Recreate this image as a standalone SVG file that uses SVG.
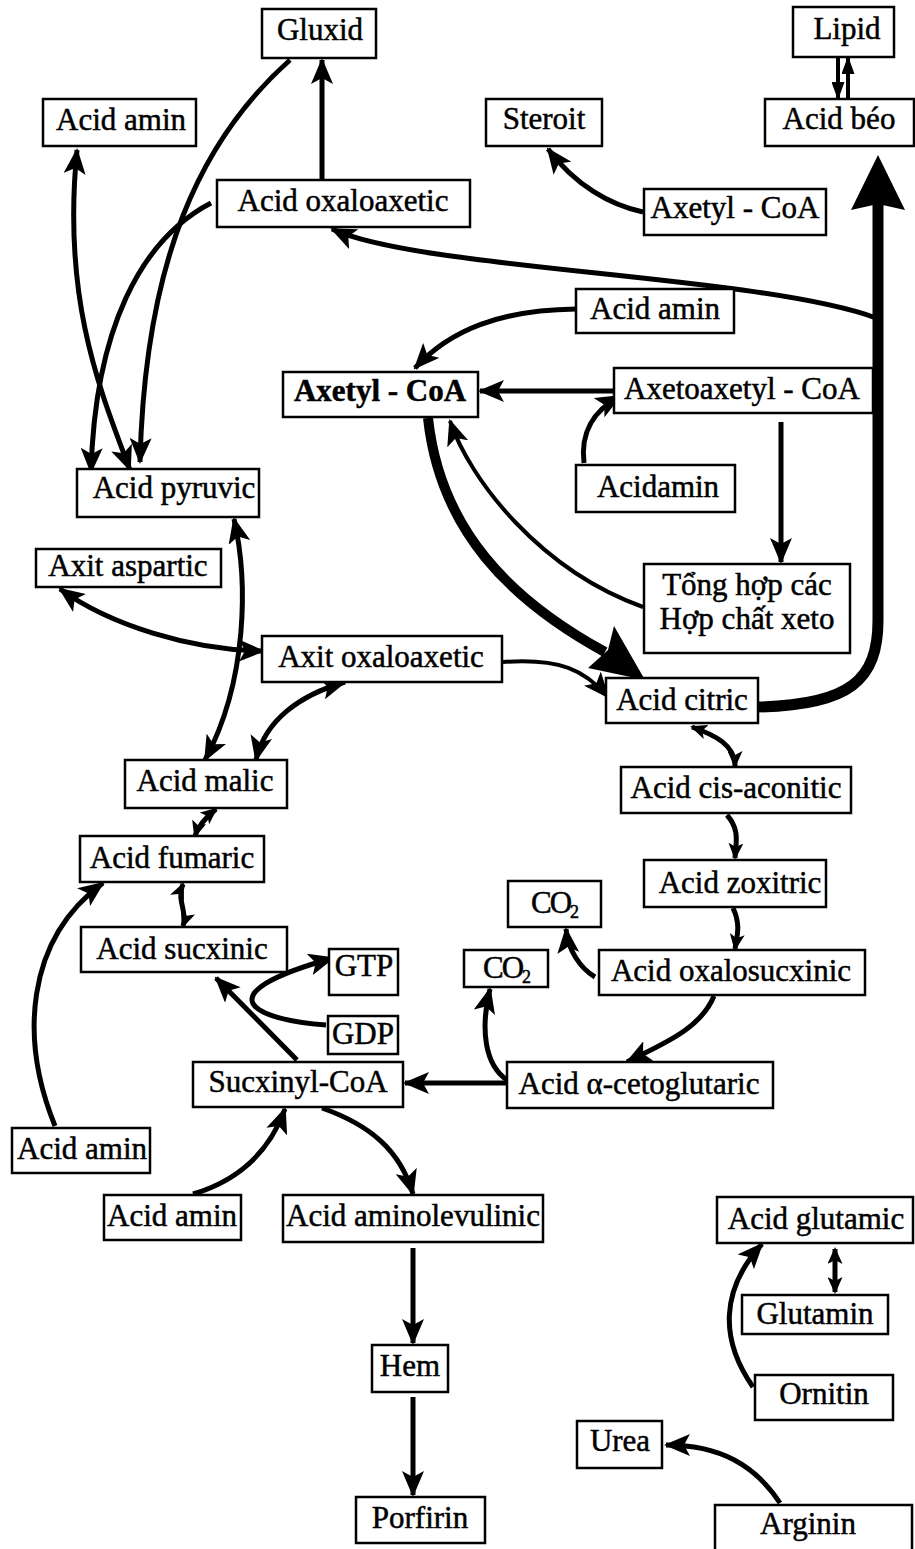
<svg xmlns="http://www.w3.org/2000/svg" width="915" height="1549" viewBox="0 0 915 1549">
<style>
.box{fill:#fff;stroke:#000;stroke-width:2.5}
.t{font-family:"Liberation Serif","Times New Roman",serif;font-size:31px;fill:#000;stroke:#000;stroke-width:0.5;text-anchor:middle}
.b{font-weight:bold}
.c{fill:none;stroke:#000;stroke-width:5}
.th{fill:none;stroke:#000;stroke-width:4}
.e{marker-end:url(#a)}
.d{marker-start:url(#a);marker-end:url(#a)}
.se{marker-end:url(#s)}
.sd{marker-start:url(#s);marker-end:url(#s)}
</style>
<defs>
<marker id="a" viewBox="0 0 26 22" markerWidth="26" markerHeight="22" refX="24" refY="11" markerUnits="userSpaceOnUse" orient="auto-start-reverse"><path d="M0,0 L26,11 L0,22 L6,11 z" fill="#000"/></marker>
<marker id="s" viewBox="0 0 17 15" markerWidth="17" markerHeight="15" refX="15" refY="7.5" markerUnits="userSpaceOnUse" orient="auto-start-reverse"><path d="M0,0 L17,7.5 L0,15 L4,7.5 z" fill="#000"/></marker>
<marker id="n" viewBox="0 0 18 13" markerWidth="18" markerHeight="13" refX="17" refY="6.5" markerUnits="userSpaceOnUse" orient="auto-start-reverse"><path d="M0,0 L18,6.5 L0,13 z" fill="#000"/></marker>
</defs>
<rect width="915" height="1549" fill="#fff"/>
<g id="connectors">
<path class="c e" d="M322 180 L322 60"/>
<path class="c e" d="M290 60 C200 140 145 260 140 462"/>
<path class="c e" d="M211 203 C140 240 95 330 91 472"/>
<path class="c d" d="M77 150 C62 300 100 390 130 470"/>
<path class="c e" d="M643 212 C610 205 575 185 548 149"/>
<path class="th" d="M838 57 L838 99" style="marker-end:url(#n)"/>
<path class="th" d="M848 99 L848 57" style="marker-end:url(#n)"/>
<path fill="none" stroke="#000" stroke-width="11" d="M758 707 C850 705 878 680 878 620 L878 200"/>
<polygon points="878,155 905,210 878,204 851,210" fill="#000"/>
<path class="c e" d="M876 318 C760 275 420 270 332 229"/>
<path class="c e" d="M576 309 C500 310 450 330 415 368"/>
<path class="c e" d="M614 391 L480 391"/>
<path class="c e" d="M584 463 C580 430 595 410 620 396"/>
<path class="c e" d="M781 422 L781 562"/>
<path class="th e" d="M643 607 C540 570 470 480 450 421"/>
<path fill="none" stroke="#000" stroke-width="10" d="M428 418 C440 530 510 600 605 652"/>
<polygon points="645,680 614,626 608,650 588,668" fill="#000"/>
<path class="th e" d="M503 662 C560 658 585 670 608 697"/>
<path class="c d" d="M60 589 C110 625 190 650 263 651"/>
<path class="c d" d="M234 519 C248 580 248 680 205 760"/>
<path class="c d" d="M345 682 C300 695 265 720 256 760"/>
<path class="c sd" d="M216 809 C205 818 198 826 195 836"/>
<path class="c sd" d="M183 884 C176 900 188 912 183 926"/>
<path class="c sd" d="M692 727 C715 735 735 745 735 766"/>
<path class="c se" d="M727 815 C740 830 736 842 735 858"/>
<path class="c se" d="M733 908 C741 925 737 936 735 949"/>
<path class="c e" d="M595 977 C580 968 568 950 566 929"/>
<path class="c e" d="M714 996 C700 1030 660 1045 627 1062"/>
<path class="c e" d="M507 1080 C485 1065 480 1030 490 989"/>
<path class="c e" d="M507 1083 L405 1083"/>
<path class="c e" d="M297 1060 L216 978"/>
<path class="c e" d="M326 1025 C255 1020 200 995 333 958"/>
<path class="c e" d="M55 1126 C20 1040 25 940 103 883"/>
<path class="c e" d="M193 1194 C240 1180 270 1150 285 1109"/>
<path class="c e" d="M322 1108 C370 1125 400 1150 413 1194"/>
<path class="c e" d="M413 1248 L413 1343"/>
<path class="c e" d="M413 1397 L413 1495"/>
<path class="c sd" d="M835 1249 L835 1292"/>
<path class="c e" d="M753 1387 C720 1340 720 1290 762 1244"/>
<path class="c e" d="M780 1503 C755 1465 720 1445 666 1445"/>
</g>
<g id="n-gluxid"><rect class="box" x="262" y="9" width="114" height="49"/><text class="t" x="320" y="40">Gluxid</text></g>
<g id="n-acidamin1"><rect class="box" x="43" y="99" width="153" height="47"/><text class="t" x="121" y="130">Acid amin</text></g>
<g id="n-oxalo1"><rect class="box" x="217" y="180" width="253" height="47"/><text class="t" x="343" y="211">Acid oxaloaxetic</text></g>
<g id="n-lipid"><rect class="box" x="793" y="7" width="101" height="50"/><text class="t" x="847" y="39">Lipid</text></g>
<g id="n-acidbeo"><rect class="box" x="765" y="99" width="149" height="47"/><text class="t" x="839" y="129">Acid béo</text></g>
<g id="n-steroit"><rect class="box" x="486" y="99" width="116" height="47"/><text class="t" x="544" y="129">Steroit</text></g>
<g id="n-axetyl2"><rect class="box" x="644" y="189" width="182" height="46"/><text class="t" x="735" y="218">Axetyl - CoA</text></g>
<g id="n-acidamin2"><rect class="box" x="576" y="289" width="158" height="44"/><text class="t" x="655" y="319">Acid amin</text></g>
<g id="n-axetyl1"><rect class="box" x="283" y="372" width="195" height="45"/><text class="t b" x="380" y="401">Axetyl - CoA</text></g>
<g id="n-axetoaxetyl"><rect class="box" x="614" y="368" width="259" height="45"/><text class="t" x="742" y="399">Axetoaxetyl - CoA</text></g>
<g id="n-acidamin3"><rect class="box" x="576" y="465" width="159" height="47"/><text class="t" x="658" y="497">Acidamin</text></g>
<g id="n-pyruvic"><rect class="box" x="77" y="469" width="182" height="48"/><text class="t" x="174" y="498">Acid pyruvic</text></g>
<g id="n-aspartic"><rect class="box" x="36" y="549" width="185" height="38"/><text class="t" x="128" y="576">Axit aspartic</text></g>
<g id="n-xeto"><rect class="box" x="644" y="564" width="206" height="89"/><text class="t" x="747" y="595">Tổng hợp các</text><text class="t" x="747" y="629">Hợp chất xeto</text></g>
<g id="n-oxalo2"><rect class="box" x="262" y="636" width="240" height="46"/><text class="t" x="381" y="667">Axit oxaloaxetic</text></g>
<g id="n-citric"><rect class="box" x="606" y="678" width="152" height="45"/><text class="t" x="682" y="710">Acid citric</text></g>
<g id="n-malic"><rect class="box" x="125" y="760" width="162" height="48"/><text class="t" x="205" y="791">Acid malic</text></g>
<g id="n-cis"><rect class="box" x="621" y="767" width="230" height="46"/><text class="t" x="736" y="798">Acid cis-aconitic</text></g>
<g id="n-fumaric"><rect class="box" x="80" y="836" width="184" height="46"/><text class="t" x="172" y="868">Acid fumaric</text></g>
<g id="n-zoxitric"><rect class="box" x="644" y="860" width="182" height="47"/><text class="t" x="740" y="893">Acid zoxitric</text></g>
<g id="n-co2a"><rect class="box" x="508" y="881" width="93" height="46"/><text class="t" x="554" y="913" letter-spacing="-2">CO<tspan font-size="18" dy="5">2</tspan></text></g>
<g id="n-sucxinic"><rect class="box" x="81" y="927" width="206" height="45"/><text class="t" x="182" y="959">Acid  sucxinic</text></g>
<g id="n-gtp"><rect class="box" x="329" y="949" width="69" height="46"/><text class="t" x="364" y="976" font-size="27">GTP</text></g>
<g id="n-co2b"><rect class="box" x="464" y="950" width="84" height="37"/><text class="t" x="506" y="978" letter-spacing="-2">CO<tspan font-size="18" dy="5">2</tspan></text></g>
<g id="n-oxalosuc"><rect class="box" x="599" y="950" width="266" height="45"/><text class="t" x="731" y="981">Acid oxalosucxinic</text></g>
<g id="n-gdp"><rect class="box" x="328" y="1016" width="70" height="38"/><text class="t" x="363" y="1044" font-size="27">GDP</text></g>
<g id="n-sucxinyl"><rect class="box" x="193" y="1062" width="210" height="45"/><text class="t" x="298" y="1092">Sucxinyl-CoA</text></g>
<g id="n-ceto"><rect class="box" x="507" y="1062" width="266" height="46"/><text class="t" x="639" y="1094">Acid α-cetoglutaric</text></g>
<g id="n-acidamin4"><rect class="box" x="12" y="1128" width="138" height="45"/><text class="t" x="82" y="1159">Acid amin</text></g>
<g id="n-acidamin5"><rect class="box" x="104" y="1195" width="137" height="45"/><text class="t" x="172" y="1226">Acid amin</text></g>
<g id="n-aminolev"><rect class="box" x="283" y="1195" width="260" height="47"/><text class="t" x="413" y="1226">Acid aminolevulinic</text></g>
<g id="n-hem"><rect class="box" x="372" y="1345" width="76" height="47"/><text class="t" x="410" y="1376">Hem</text></g>
<g id="n-porfirin"><rect class="box" x="356" y="1497" width="129" height="46"/><text class="t" x="420" y="1528">Porfirin</text></g>
<g id="n-glutamic"><rect class="box" x="717" y="1197" width="196" height="46"/><text class="t" x="816" y="1229">Acid glutamic</text></g>
<g id="n-glutamin"><rect class="box" x="742" y="1295" width="146" height="39"/><text class="t" x="815" y="1324">Glutamin</text></g>
<g id="n-ornitin"><rect class="box" x="755" y="1375" width="138" height="45"/><text class="t" x="824" y="1404">Ornitin</text></g>
<g id="n-urea"><rect class="box" x="577" y="1421" width="85" height="47"/><text class="t" x="620" y="1451">Urea</text></g>
<g id="n-arginin"><rect class="box" x="715" y="1505" width="197" height="50"/><text class="t" x="808" y="1534">Arginin</text></g>
</svg>
